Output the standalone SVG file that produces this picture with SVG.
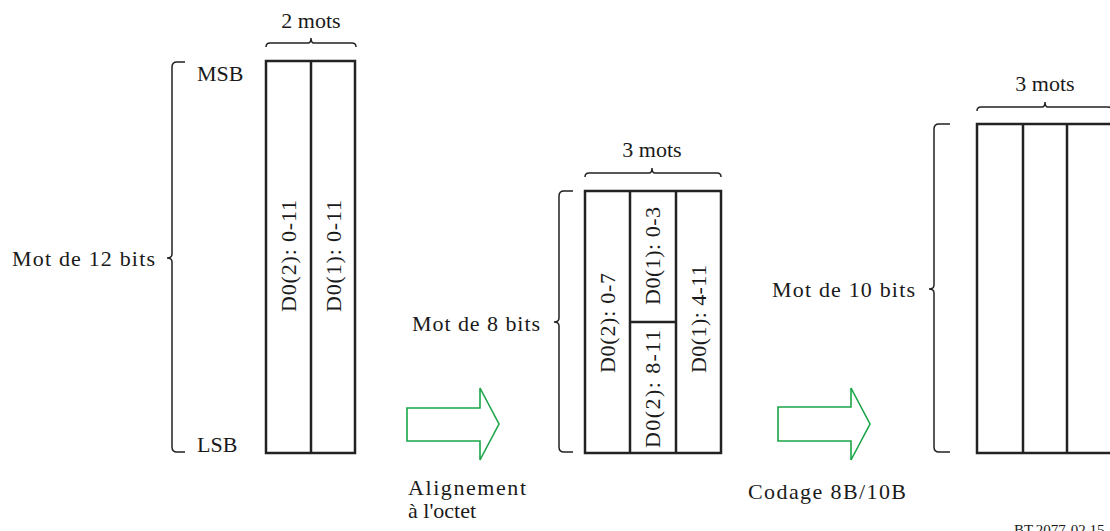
<svg xmlns="http://www.w3.org/2000/svg" width="1110" height="531" viewBox="0 0 1110 531" font-family="'Liberation Serif', 'DejaVu Serif', serif">
<style>
text{font-family:'Liberation Serif','DejaVu Serif',serif;font-size:22px;fill:#1a1a1a}
.box{fill:none;stroke:#222;stroke-width:2.5}
.ln{fill:none;stroke:#222;stroke-width:2.5}
.br{fill:none;stroke:#222;stroke-width:1.5}
.arr{fill:#fff;stroke:#1aa54a;stroke-width:1.6;stroke-linejoin:miter}
.mid{text-anchor:middle}
.end{text-anchor:end}
</style>
<rect width="1110" height="531" fill="#fff"/>

<g id="block12">
  <rect class="box" x="266" y="61" width="89" height="392"/>
  <line class="ln" x1="311" y1="61" x2="311" y2="453"/>
  <text class="mid" transform="translate(296,256) rotate(-90)" textLength="112" lengthAdjust="spacing">D0(2): 0-11</text>
  <text class="mid" transform="translate(341,256) rotate(-90)" textLength="112" lengthAdjust="spacing">D0(1): 0-11</text>
  <path class="br" d="M266,47 Q266,43 270,43 L308,43 Q311,43 311,38 Q311,43 314,43 L352,43 Q356,43 356,47"/>
  <text class="mid" x="311" y="28">2 mots</text>
  <path class="br" d="M185,62 L177,62 Q172,62 172,67 L172,254 Q172,258 167,258 Q172,258 172,262 L172,447 Q172,452 177,452 L185,452"/>
  <text x="197" y="81">MSB</text>
  <text x="197" y="452">LSB</text>
  <text class="end" x="155" y="266" textLength="143" lengthAdjust="spacing">Mot de 12 bits</text>
</g>

<g id="block8">
  <rect class="box" x="585" y="191" width="136" height="262"/>
  <line class="ln" x1="630" y1="191" x2="630" y2="453"/>
  <line class="ln" x1="676" y1="191" x2="676" y2="453"/>
  <line class="ln" x1="630" y1="322" x2="676" y2="322"/>
  <text class="mid" transform="translate(615,323) rotate(-90)" textLength="100" lengthAdjust="spacing">D0(2): 0-7</text>
  <text class="mid" transform="translate(660,256) rotate(-90)" textLength="98" lengthAdjust="spacing">D0(1): 0-3</text>
  <text class="mid" transform="translate(660,389) rotate(-90)" textLength="118" lengthAdjust="spacing">D0(2): 8-11</text>
  <text class="mid" transform="translate(706,319) rotate(-90)" textLength="108" lengthAdjust="spacing">D0(1): 4-11</text>
  <path class="br" d="M585,177 Q585,173 589,173 L649,173 Q652,173 652,168 Q652,173 655,173 L717,173 Q721,173 721,177"/>
  <text class="mid" x="652" y="157">3 mots</text>
  <path class="br" d="M573,191 L564,191 Q559,191 559,196 L559,318 Q559,322 554,322 Q559,322 559,326 L559,447 Q559,452 564,452 L573,452"/>
  <text class="end" x="540" y="331" textLength="128" lengthAdjust="spacing">Mot de 8 bits</text>
</g>

<g id="block10">
  <rect class="box" x="977" y="124" width="135" height="329"/>
  <line class="ln" x1="1023" y1="124" x2="1023" y2="453"/>
  <line class="ln" x1="1067" y1="124" x2="1067" y2="453"/>
  <path class="br" d="M977,111 Q977,107 981,107 L1042,107 Q1045,107 1045,102 Q1045,107 1048,107 L1108,107 Q1112,107 1112,111"/>
  <text class="mid" x="1045" y="91">3 mots</text>
  <path class="br" d="M950,124 L939,124 Q934,124 934,129 L934,285 Q934,289 929,289 Q934,289 934,293 L934,447 Q934,452 939,452 L950,452"/>
  <text class="end" x="915" y="297" textLength="143" lengthAdjust="spacing">Mot de 10 bits</text>
</g>

<g id="arrow1">
  <polygon class="arr" points="407,408 480,408 480,388 499,424 480,460 480,441 407,441"/>
  <text x="408" y="495" textLength="118" lengthAdjust="spacing">Alignement</text>
  <text x="408" y="518">à l'octet</text>
</g>

<g id="arrow2">
  <polygon class="arr" points="778,407 851,407 851,388 870,424 851,460 851,441 778,441"/>
  <text x="748" y="499" textLength="158" lengthAdjust="spacing">Codage 8B/10B</text>
</g>

<g id="connectors"></g>

<text x="1014" y="535" style="font-size:15px">BT.2077-02.15</text>
</svg>
